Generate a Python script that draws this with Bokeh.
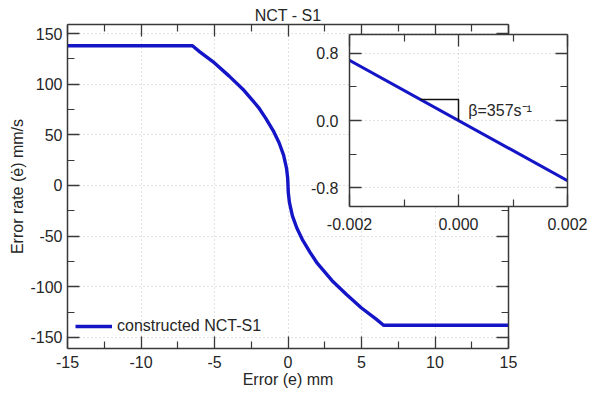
from bokeh.plotting import figure
from bokeh.models import LinearAxis, FixedTicker, PrintfTickFormatter, Label, Legend, LegendItem
from bokeh.embed import file_html
from bokeh.resources import INLINE

# ---- data ----
err_mm = [-15, -6.5, -6, -5, -4, -3, -2, -1.5, -1, -0.6, -0.3, -0.1, -0.02, 0,
          0.02, 0.1, 0.3, 0.6, 1, 1.5, 2, 3, 4, 5, 6, 6.5, 15]
rate_mms = [138, 138, 132, 121, 108, 94, 77, 66, 54, 42, 30, 17, 7, 0,
            -7, -17, -30, -42, -54, -66, -77, -94, -108, -121, -132, -138, -138]

inset_err = [-0.002, 0.002]
inset_rate = [0.714, -0.714]
tri_x = [-0.0007, 0.0, 0.0]
tri_y = [0.25, 0.25, 0.0]

x_ticks = [-15, -10, -5, 0, 5, 10, 15]
x_minor = [-12.5, -7.5, -2.5, 2.5, 7.5, 12.5]
y_ticks = [-150, -100, -50, 0, 50, 100, 150]
y_minor = [-125, -75, -25, 25, 75, 125]
ix_ticks = [-0.002, 0.0, 0.002]
ix_minor = [-0.001, 0.001]
iy_ticks = [-0.8, 0.0, 0.8]
iy_minor = [-0.4, 0.4]

FONT = "Liberation Sans"
FS = "16px"
TXT = "#262626"
AX = "#383838"
BLUE = "#1515c8"


def style_axis(ax, ticker, show_labels=True, fmt=None):
    ax.ticker = ticker
    ax.axis_line_color = AX
    ax.axis_line_width = 1.5
    ax.major_tick_line_color = AX
    ax.minor_tick_line_color = AX
    ax.major_tick_line_width = 1.3
    ax.minor_tick_line_width = 1.2
    ax.major_tick_in = 12
    ax.major_tick_out = 0
    ax.minor_tick_in = 7
    ax.minor_tick_out = 0
    ax.major_label_text_font = FONT
    ax.major_label_text_color = TXT
    ax.axis_label_text_font = FONT
    ax.axis_label_text_color = TXT
    ax.axis_label_text_font_style = "normal"
    ax.axis_label_text_font_size = FS
    if fmt is not None:
        ax.formatter = fmt
    if show_labels:
        ax.major_label_text_font_size = FS
    else:
        ax.major_label_text_font_size = "0px"
        ax.major_label_text_color = None
        ax.major_label_standoff = 0


# ---- main figure ----
p = figure(width=518, height=395, x_range=(-15, 15), y_range=(-161, 159),
           output_backend="svg", toolbar_location=None, title="NCT - S1",
           min_border_left=62, min_border_right=15, min_border_top=21, min_border_bottom=50)
p.title.align = "center"
p.title.text_font = FONT
p.title.text_font_size = FS
p.title.text_font_style = "normal"
p.title.text_color = TXT
p.title.standoff = 2
p.title.offset = 0
p.outline_line_color = None
p.background_fill_color = "white"
p.border_fill_color = "white"

xt = FixedTicker(ticks=x_ticks, minor_ticks=x_minor)
yt = FixedTicker(ticks=y_ticks, minor_ticks=y_minor)
style_axis(p.xaxis[0], xt, fmt=PrintfTickFormatter(format="%d"))
style_axis(p.yaxis[0], yt, fmt=PrintfTickFormatter(format="%d"))
p.xaxis[0].axis_label = "Error (e) mm"
p.xaxis[0].major_label_standoff = 7
p.xaxis[0].axis_label_standoff = 0
p.yaxis[0].axis_label = "Error rate (ė) mm/s"
p.yaxis[0].major_label_standoff = 5
p.yaxis[0].axis_label_standoff = 1

top_ax = LinearAxis()
style_axis(top_ax, FixedTicker(ticks=x_ticks, minor_ticks=x_minor), show_labels=False)
p.add_layout(top_ax, "above")
right_ax = LinearAxis()
style_axis(right_ax, FixedTicker(ticks=y_ticks, minor_ticks=y_minor), show_labels=False)
p.add_layout(right_ax, "right")

for g in (p.xgrid[0], p.ygrid[0]):
    g.grid_line_color = "#c4c4c4"
    g.grid_line_dash = "1 3"
    g.grid_line_width = 1
p.xgrid[0].ticker = xt
p.ygrid[0].ticker = yt

r = p.line(err_mm, rate_mms, line_color=BLUE, line_width=3.4)
leg = Legend(items=[LegendItem(label="constructed NCT-S1", renderers=[r])],
             location=(8, 12))
leg.border_line_color = None
leg.background_fill_alpha = 0
leg.label_text_font = FONT
leg.label_text_font_size = FS
leg.label_text_color = TXT
leg.glyph_width = 37
leg.label_standoff = 5
leg.padding = 5
leg.margin = 0
p.add_layout(leg)

p.styles = {"position": "absolute", "left": "5px", "top": "3px"}

# ---- inset figure ----
ins = figure(width=282, height=208, x_range=(-0.002, 0.002), y_range=(-1.02, 1.02),
             output_backend="svg", toolbar_location=None,
             min_border_left=40, min_border_right=22, min_border_top=4, min_border_bottom=32)
ins.border_fill_color = None
ins.background_fill_color = "white"
ins.outline_line_color = None

ixt = FixedTicker(ticks=ix_ticks, minor_ticks=ix_minor)
iyt = FixedTicker(ticks=iy_ticks, minor_ticks=iy_minor)
style_axis(ins.xaxis[0], ixt, fmt=PrintfTickFormatter(format="%.3f"))
style_axis(ins.yaxis[0], iyt, fmt=PrintfTickFormatter(format="%.1f"))
ins.xaxis[0].major_label_standoff = 11
ins.yaxis[0].major_label_standoff = 11
it_ax = LinearAxis()
style_axis(it_ax, FixedTicker(ticks=ix_ticks, minor_ticks=ix_minor), show_labels=False)
ins.add_layout(it_ax, "above")
ir_ax = LinearAxis()
style_axis(ir_ax, FixedTicker(ticks=iy_ticks, minor_ticks=iy_minor), show_labels=False)
ins.add_layout(ir_ax, "right")
for g in (ins.xgrid[0], ins.ygrid[0]):
    g.grid_line_color = "#c4c4c4"
    g.grid_line_dash = "1 3"
    g.grid_line_width = 1
ins.xgrid[0].ticker = ixt
ins.ygrid[0].ticker = iyt

ins.line(inset_err, inset_rate, line_color=BLUE, line_width=3)
ins.line(tri_x, tri_y, line_color="#111111", line_width=1.5)
ins.add_layout(Label(x=0.00018, y=0.119, text="β=357s⁻¹", text_font=FONT,
                     text_font_size=FS, text_color=TXT, text_baseline="alphabetic"))

ins.styles = {"position": "absolute", "left": "307px", "top": "30px", "z-index": "10"}

open("out.html", "w").write(file_html([p, ins], INLINE))
